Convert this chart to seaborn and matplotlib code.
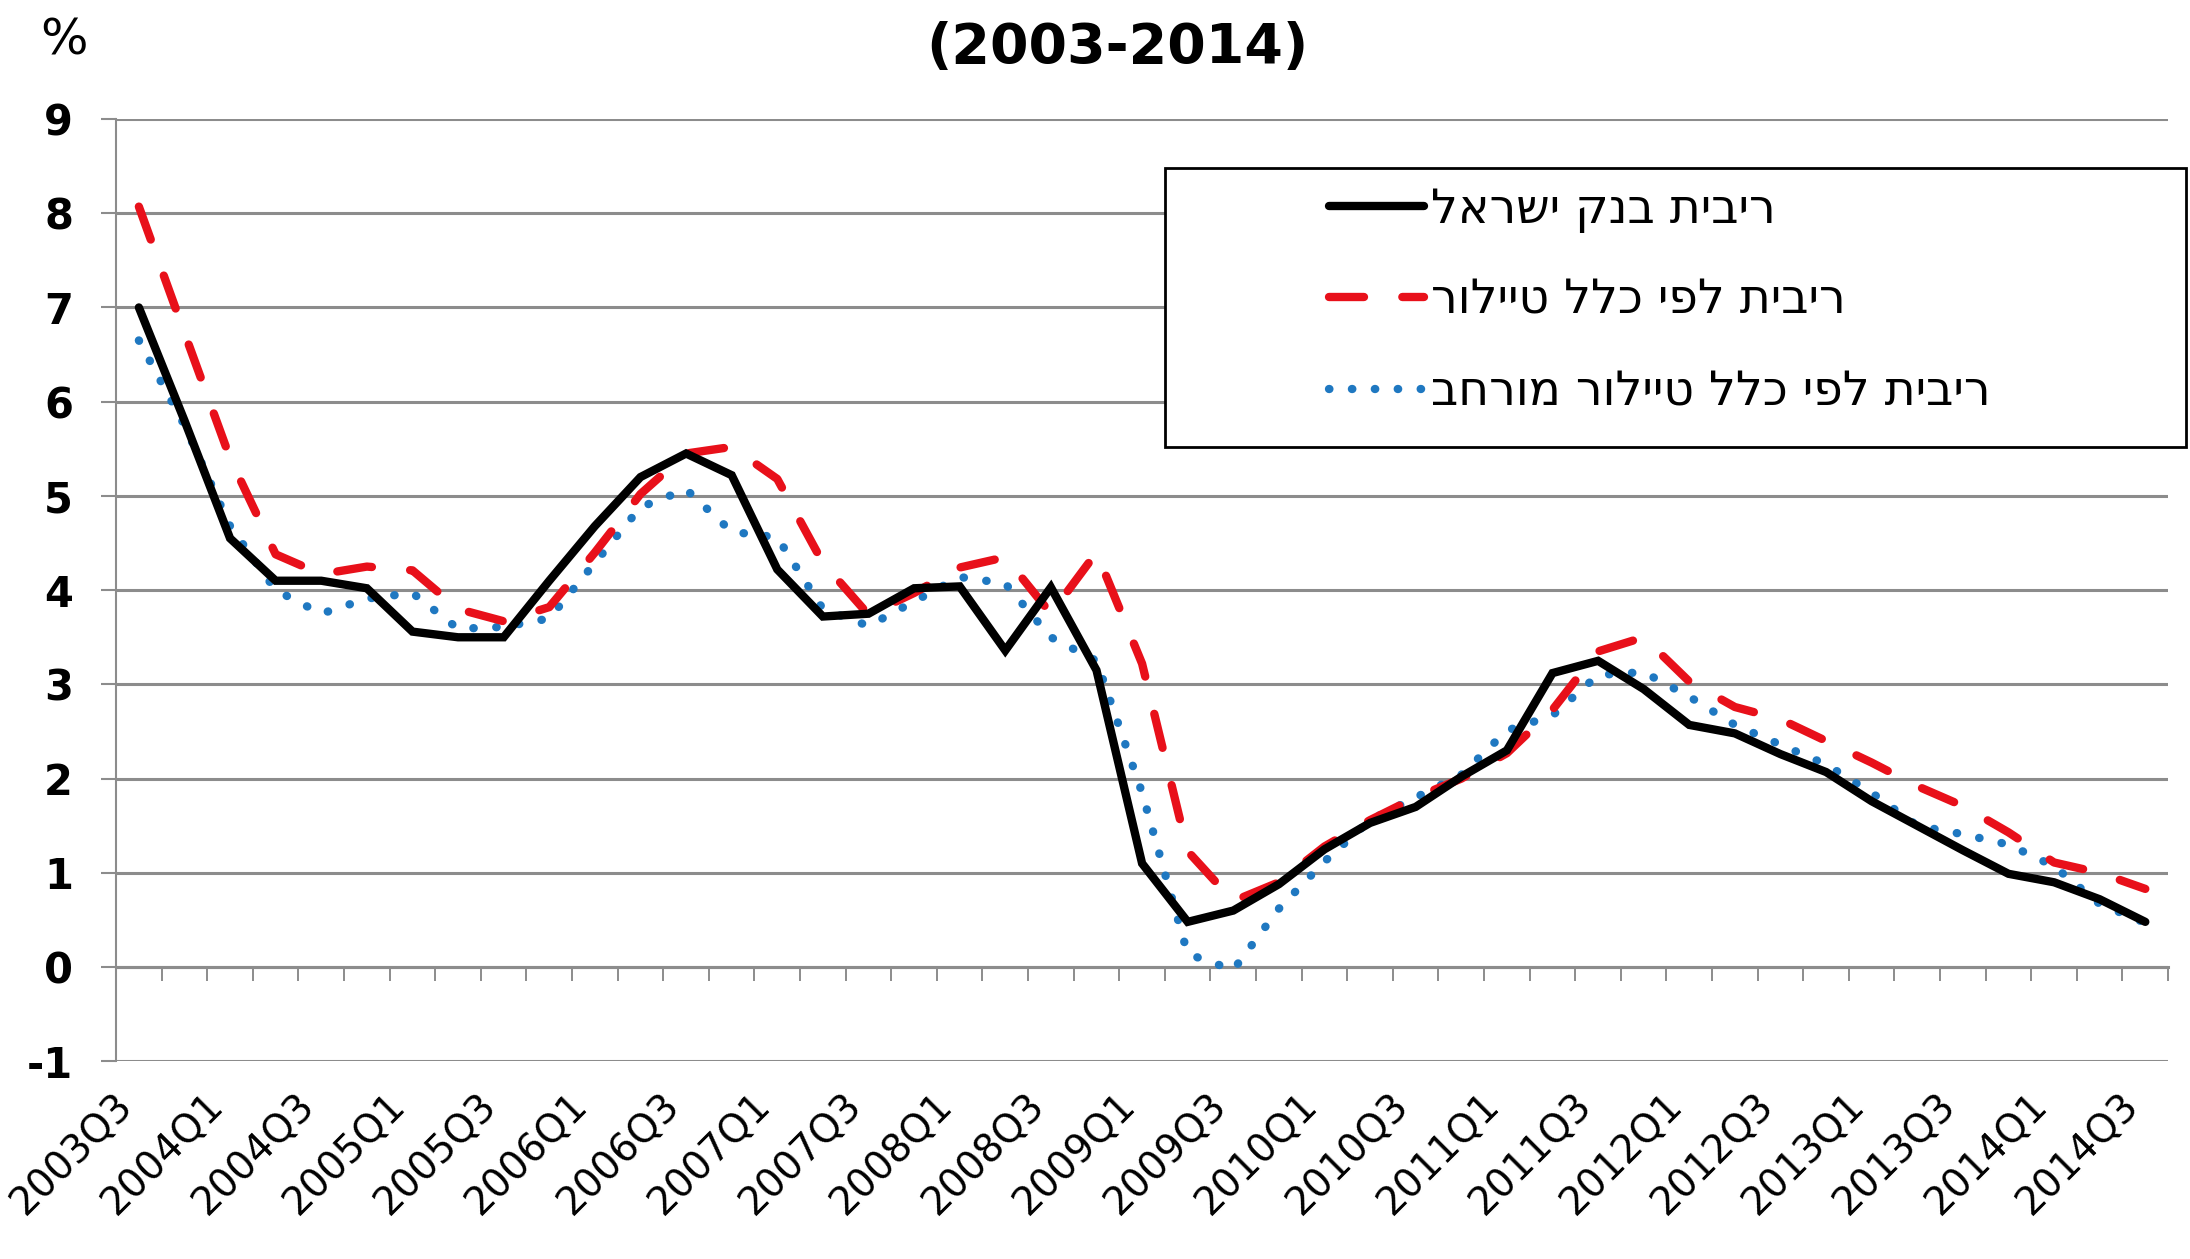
"""
Bank of Israel rate vs. Taylor-rule rates, quarterly 2003Q3-2014Q3
"""

import numpy as np
import pandas as pd
import matplotlib
matplotlib.use("Agg")
import matplotlib.pyplot as plt
from matplotlib.patches import Rectangle
import seaborn as sns

quarters = [
    "2003Q3", "2003Q4", "2004Q1", "2004Q2", "2004Q3", "2004Q4", "2005Q1", "2005Q2",
    "2005Q3", "2005Q4", "2006Q1", "2006Q2", "2006Q3", "2006Q4", "2007Q1", "2007Q2",
    "2007Q3", "2007Q4", "2008Q1", "2008Q2", "2008Q3", "2008Q4", "2009Q1", "2009Q2",
    "2009Q3", "2009Q4", "2010Q1", "2010Q2", "2010Q3", "2010Q4", "2011Q1", "2011Q2",
    "2011Q3", "2011Q4", "2012Q1", "2012Q2", "2012Q3", "2012Q4", "2013Q1", "2013Q2",
    "2013Q3", "2013Q4", "2014Q1", "2014Q2", "2014Q3",
]

boi_rate = [
    7.0, 5.8, 4.55, 4.1, 4.1, 4.02, 3.56, 3.5, 3.5, 4.1, 4.68, 5.2, 5.45, 5.22, 4.22,
    3.72, 3.75, 4.02, 4.04, 3.36, 4.03, 3.15, 1.1, 0.48, 0.6, 0.88, 1.25, 1.53, 1.7,
    2.02, 2.3, 3.12, 3.25, 2.95, 2.57, 2.48, 2.26, 2.07, 1.76, 1.5, 1.24, 0.99, 0.9,
    0.72, 0.48,
]
taylor_rate = [
    8.07, 6.73, 5.4, 4.38, 4.17, 4.25, 4.21, 3.8, 3.67, 3.82, 4.4, 5.02, 5.45, 5.52,
    5.18, 4.29, 3.74, 3.97, 4.24, 4.35, 3.75, 4.4, 3.22, 1.23, 0.7, 0.9, 1.28, 1.56,
    1.8, 2.0, 2.27, 2.73, 3.35, 3.5, 3.03, 2.76, 2.63, 2.4, 2.17, 1.92, 1.71, 1.43,
    1.11, 1.0, 0.83,
]
taylor_ext_rate = [
    6.65, 5.75, 4.68, 4.0, 3.75, 3.91, 3.97, 3.59, 3.61, 3.7, 4.29, 4.88, 5.07, 4.62,
    4.56, 3.8, 3.62, 3.88, 4.14, 4.07, 3.5, 3.25, 1.85, 0.14, -0.03, 0.62, 1.12, 1.56,
    1.8, 2.04, 2.51, 2.67, 3.1, 3.13, 2.87, 2.57, 2.36, 2.15, 1.85, 1.5, 1.41, 1.3,
    1.07, 0.67, 0.47,
]

labels = [
    "ריבית בנק ישראל",
    "ריבית לפי כלל טיילור",
    "ריבית לפי כלל טיילור מורחב",
]

df = pd.DataFrame({
    "idx": np.arange(len(quarters)),
    "quarter": quarters,
    "boi": boi_rate,
    "taylor": taylor_rate,
    "taylor_ext": taylor_ext_rate,
})

sns.set_style("white")
plt.rcParams["font.family"] = ["DejaVu Sans"]
plt.rcParams["text.color"] = "black"
plt.rcParams["xtick.labelcolor"] = "black"
plt.rcParams["ytick.labelcolor"] = "black"

fig = plt.figure(figsize=(21.9, 12.59), dpi=100)
ax = fig.add_axes([0.053, 0.157, 0.937, 0.7485])

grid_col = "#8c8c8c"

# series (matplotlib draws LTR, so the hebrew labels are reversed to visual order)
sns.lineplot(data=df, x="idx", y="taylor_ext", ax=ax, color="#1f78c1",
             linewidth=6.0, linestyle=(0, (0.05, 2.7)), dash_capstyle="round",
             label=labels[2][::-1], zorder=4)
sns.lineplot(data=df, x="idx", y="taylor", ax=ax, color="#e8101a",
             linewidth=6.0, linestyle=(0, (4.2, 4.6)), dash_capstyle="round",
             label=labels[1][::-1], zorder=5)
sns.lineplot(data=df, x="idx", y="boi", ax=ax, color="black",
             linewidth=6.0, solid_joinstyle="miter", label=labels[0][::-1], zorder=6)

ax.set_xlim(-0.5, len(quarters) - 0.5)
ax.set_ylim(-1, 9)
ax.set_xlabel("")
ax.set_ylabel("")

# y axis
ax.set_yticks(range(-1, 10))
ax.set_yticklabels([str(v) for v in range(-1, 10)], fontsize=30, fontweight="bold")
ax.yaxis.grid(True, color=grid_col, linewidth=2.2, zorder=0)
ax.xaxis.grid(False)
ax.tick_params(axis="y", which="major", length=11, width=1.5, color=grid_col,
               direction="out", pad=20, left=True)

# category axis crosses at 0, with tick marks between quarters
for s in ["top", "right"]:
    ax.spines[s].set_visible(False)
ax.spines["left"].set_color(grid_col)
ax.spines["left"].set_linewidth(1.5)
ax.spines["bottom"].set_position(("data", 0))
ax.spines["bottom"].set_color(grid_col)
ax.spines["bottom"].set_linewidth(2.2)
ax.set_xticks([])
ax.set_xticks(np.arange(-0.5, len(quarters), 1.0), minor=True)
ax.tick_params(axis="x", which="minor", length=10, width=1.4, color=grid_col,
               direction="out", labelbottom=False, bottom=True)

# quarter labels at the bottom of the plot area
sec = ax.secondary_xaxis("bottom")
sec.set_xticks(df["idx"][::2], labels=df["quarter"][::2])
sec.spines["bottom"].set_visible(False)
sec.tick_params(axis="x", length=0, pad=18, labelsize=28, labelcolor="black")
for t in sec.get_xticklabels():
    t.set_rotation(45)
    t.set_ha("right")

# legend with its own box
box = Rectangle((0.532, 0.645), 0.466, 0.2216, transform=fig.transFigure,
                facecolor="white", edgecolor="black", linewidth=2.0,
                zorder=7, clip_on=False)
ax.add_patch(box)
handles, lbls = ax.get_legend_handles_labels()
order = [2, 1, 0]
leg = ax.legend([handles[i] for i in order], [lbls[i] for i in order],
                loc="upper left", bbox_to_anchor=(0.607, 0.851),
                bbox_transform=fig.transFigure, frameon=False,
                prop={"family": "DejaVu Sans", "size": 34},
                handlelength=2.0, handletextpad=0.15, labelspacing=0.98,
                borderpad=0, borderaxespad=0)
leg.set_zorder(8)

fig.text(0.51, 0.962, "(2003-2014)", ha="center", va="center",
         fontsize=40, fontweight="bold")
fig.text(0.029, 0.968, "%", ha="center", va="center", fontsize=36)

fig.savefig("out.png", dpi=100)
plt.close(fig)
